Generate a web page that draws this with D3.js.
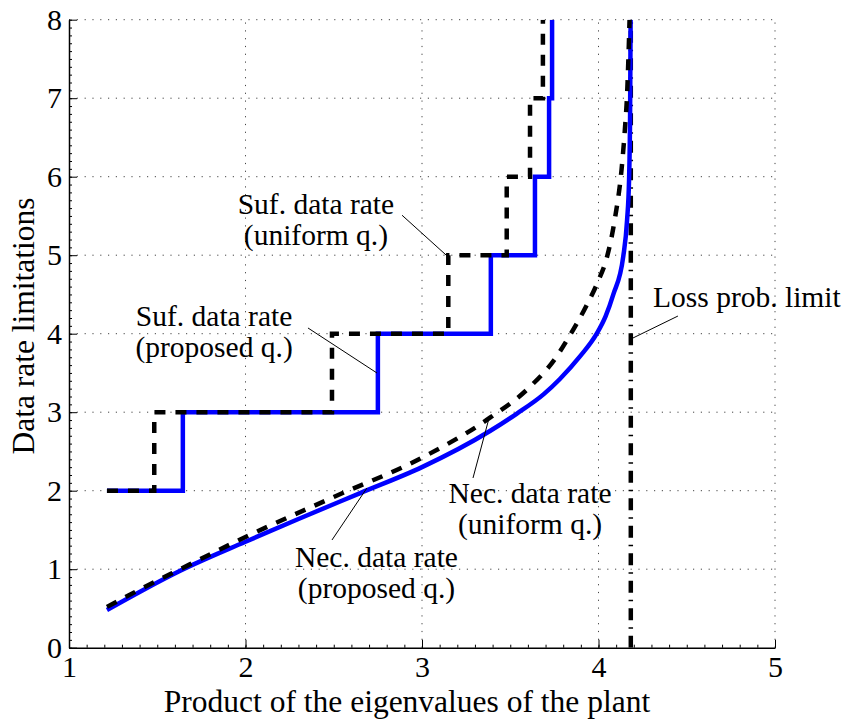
<!DOCTYPE html>
<html>
<head>
<meta charset="utf-8">
<script src="https://cdn.jsdelivr.net/npm/d3@7"></script>
<style>
  body { margin: 0; background: #fff; }
  svg { display: block; font-family: "Liberation Serif", "Times New Roman", serif; }
</style>
</head>
<body>
<div id="chart"></div>
<script>
// 數據
const xTicks = [1, 2, 3, 4, 5];
const yTicks = [0, 1, 2, 3, 4, 5, 6, 7, 8];

// 必要資料率 (proposed q.) - 藍色實線
const necPropX = [1.215, 1.40, 1.63, 2.00, 2.30, 2.65, 3.00, 3.385, 3.536, 3.69, 3.78, 3.895, 3.99, 4.04, 4.084, 4.14, 4.162, 4.173, 4.179, 4.182];
const necPropY = [0.48, 0.71, 0.98, 1.35, 1.64, 1.97, 2.30, 2.76, 2.98, 3.23, 3.42, 3.71, 4.00, 4.22, 4.50, 4.98, 5.45, 5.95, 6.80, 8.00];

// 必要資料率 (uniform q.) - 黑色虛線
const necUnifX = [1.215, 1.40, 1.63, 2.00, 2.50, 3.00, 3.385, 3.61, 3.76, 3.83, 3.93, 4.00, 4.046, 4.094, 4.131, 4.15, 4.162, 4.170, 4.176];
const necUnifY = [0.52, 0.74, 1.00, 1.41, 1.92, 2.42, 2.93, 3.32, 3.70, 3.95, 4.35, 4.68, 4.96, 5.48, 6.10, 6.62, 7.05, 7.55, 8.00];

// 充分資料率 (階梯)
const sufPropX = [1.215, 1.645, 2.75, 3.39, 3.64, 3.72, 3.737];
const sufPropY = [2, 3, 4, 5, 6, 7, 8];
const sufUnifX = [1.215, 1.483, 2.49, 3.149, 3.48, 3.612, 3.685];
const sufUnifY = [2, 3, 4, 5, 6, 7, 8];

// 遺失機率極限
const lossLimitX = 4.183;

// 註解 (資料座標)
const notes = [
  { lines: ["Suf. data rate", "(uniform q.)"], x: 2.399, y: 5.525, anchor: "middle", from: [2.887, 5.509], to: [3.147, 4.981] },
  { lines: ["Suf. data rate", "(proposed q.)"], x: 1.822, y: 4.10, anchor: "middle", from: [2.354, 4.073], to: [2.745, 3.499] },
  { lines: ["Nec. data rate", "(uniform q.)"], x: 3.612, y: 1.843, anchor: "middle", from: [3.289, 2.162], to: [3.380, 2.926] },
  { lines: ["Nec. data rate", "(proposed q.)"], x: 2.742, y: 1.032, anchor: "middle", from: [2.490, 1.372], to: [2.688, 2.034] },
  { lines: ["Loss prob. limit"], x: 4.309, y: 4.340, anchor: "start", from: [4.450, 4.225], to: [4.195, 3.945] },
];

const width = 847, height = 720;
const margin = { top: 19.7, right: 72, bottom: 72.3, left: 69 };
const tickFont = 30, titleFont = 31.5, noteFont = 29.5;

const svg = d3.select("#chart").append("svg")
  .attr("width", width).attr("height", height);

const x = d3.scaleLinear().domain([1, 5]).range([margin.left, width - margin.right]);
const y = d3.scaleLinear().domain([0, 8]).range([height - margin.bottom, margin.top]);

svg.append("defs").append("clipPath").attr("id", "clip")
  .append("rect")
  .attr("x", x(1)).attr("y", y(8))
  .attr("width", x(5) - x(1)).attr("height", y(0) - y(8));

// 格線
const grid = svg.append("g").attr("stroke", "#444").attr("stroke-width", 1)
  .attr("stroke-dasharray", "1.2,6.6");
grid.selectAll(".gx").data(xTicks.slice(1)).join("line")
  .attr("x1", d => x(d)).attr("x2", d => x(d))
  .attr("y1", y(0)).attr("y2", y(8));
grid.selectAll(".gy").data(yTicks.slice(1)).join("line")
  .attr("x1", x(1)).attr("x2", x(5))
  .attr("y1", d => y(d)).attr("y2", d => y(d));

const plot = svg.append("g").attr("clip-path", "url(#clip)");

// 遺失機率極限 (點劃線)
plot.append("line")
  .attr("x1", x(lossLimitX)).attr("x2", x(lossLimitX))
  .attr("y1", y(0)).attr("y2", y(8))
  .attr("stroke", "black").attr("stroke-width", 4.5)
  .attr("stroke-dasharray", "12,7,1.5,7");

const smooth = d3.line().x(d => x(d[0])).y(d => y(d[1])).curve(d3.curveMonotoneX);
const step = d3.line().x(d => x(d[0])).y(d => y(d[1])).curve(d3.curveStepAfter);

const zip = (a, b) => a.map((v, i) => [v, b[i]]);

plot.append("path").datum(zip(necPropX, necPropY)).attr("d", smooth)
  .attr("fill", "none").attr("stroke", "#0000ff").attr("stroke-width", 4.5);
plot.append("path").datum(zip(sufPropX, sufPropY)).attr("d", step)
  .attr("fill", "none").attr("stroke", "#0000ff").attr("stroke-width", 4.5);

plot.append("path").datum(zip(necUnifX, necUnifY)).attr("d", smooth)
  .attr("fill", "none").attr("stroke", "black").attr("stroke-width", 4.5)
  .attr("stroke-dasharray", "11,10");
plot.append("path").datum(zip(sufUnifX, sufUnifY)).attr("d", step)
  .attr("fill", "none").attr("stroke", "black").attr("stroke-width", 4.5)
  .attr("stroke-dasharray", "11,10");

// 軸
const minorX = d3.range(1, 5.001, 0.1);
const minorY = d3.range(0, 8.001, 0.1);

svg.append("g").attr("transform", `translate(0,${y(0)})`)
  .call(d3.axisBottom(x).tickValues(minorX).tickSizeInner(-3).tickSizeOuter(0).tickFormat(""))
  .call(g => g.select(".domain").remove());
svg.append("g").attr("transform", `translate(${x(1)},0)`)
  .call(d3.axisLeft(y).tickValues(minorY).tickSizeInner(-3).tickSizeOuter(0).tickFormat(""))
  .call(g => g.select(".domain").remove());

const xAxis = svg.append("g").attr("transform", `translate(0,${y(0)})`)
  .call(d3.axisBottom(x).tickValues(xTicks).tickSizeInner(-8).tickSizeOuter(0).tickPadding(8).tickFormat(d3.format("d")));
const yAxis = svg.append("g").attr("transform", `translate(${x(1)},0)`)
  .call(d3.axisLeft(y).tickValues(yTicks).tickSizeInner(-8).tickSizeOuter(0).tickPadding(7).tickFormat(d3.format("d")));

[xAxis, yAxis].forEach(g => {
  g.select(".domain").attr("stroke-width", 1.5);
  g.selectAll("text").attr("font-size", tickFont).attr("font-family", "Liberation Serif").attr("fill", "black");
});

// 軸標題
svg.append("text")
  .attr("x", 407).attr("y", 711.5)
  .attr("text-anchor", "middle").attr("font-size", titleFont)
  .text("Product of the eigenvalues of the plant");
svg.append("text")
  .attr("transform", `translate(34,326) rotate(-90)`)
  .attr("text-anchor", "middle").attr("font-size", titleFont)
  .text("Data rate limitations");

// 註解
const ann = svg.append("g");
notes.forEach(n => {
  ann.append("line")
    .attr("x1", x(n.from[0])).attr("y1", y(n.from[1]))
    .attr("x2", x(n.to[0])).attr("y2", y(n.to[1]))
    .attr("stroke", "black").attr("stroke-width", 1);
  n.lines.forEach((t, i) => {
    ann.append("text")
      .attr("x", x(n.x)).attr("y", y(n.y) + i * 31)
      .attr("text-anchor", n.anchor).attr("font-size", noteFont)
      .text(t);
  });
});
</script>
</body>
</html>
